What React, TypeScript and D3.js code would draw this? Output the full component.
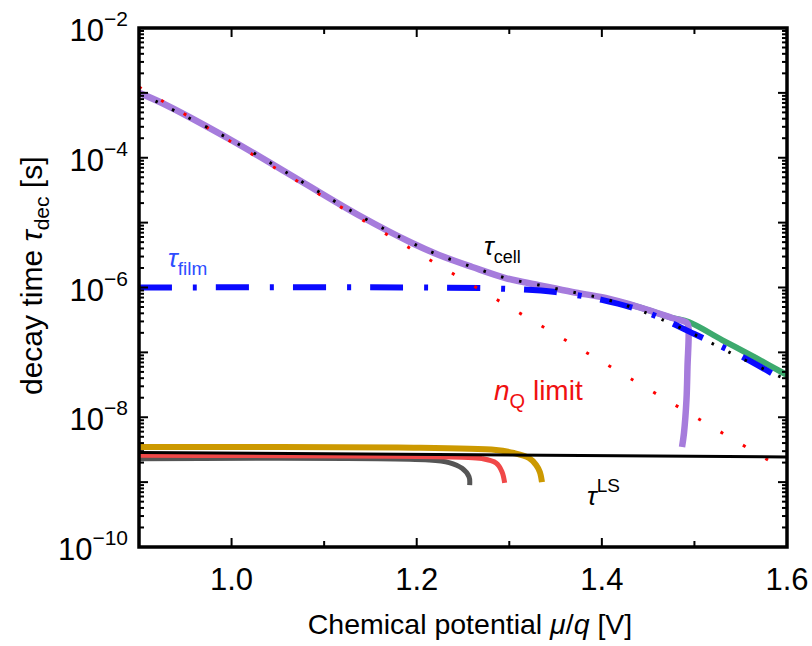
import React from "react";
import * as d3 from "d3";

// ---------- data (μ/q [V], τ [s]) ----------
const xTickValues = [1.0, 1.2, 1.4, 1.6];
const xMinorTicks = [1.1, 1.3, 1.5];
const yLabelExponents = [-2, -4, -6, -8, -10];

const tauCell: [number, number][] = [
  [0.9, 1.0e-3], [0.9248, 6.98e-4], [0.9994, 1.88e-4], [1.0728, 4.54e-5],
  [1.1409, 1.22e-5], [1.1949, 4.85e-6], [1.224, 3.17e-6], [1.26, 2.07e-6],
  [1.296, 1.4e-6], [1.332, 1.09e-6], [1.368, 8.53e-7], [1.404, 6.9e-7],
  [1.44, 5.0e-7], [1.476, 3.39e-7], [1.492, 2.84e-7],
  [1.4935, 2.46e-7], [1.4925, 5.96e-8], [1.4914, 1.85e-8], [1.4887, 5.71e-9], [1.4866, 3.48e-9],
];

const tauCellGreen: [number, number][] = [
  [1.40, 6.9e-7], [1.44, 5.0e-7], [1.476, 3.39e-7], [1.494, 2.94e-7],
  [1.53, 1.55e-7], [1.5665, 8.19e-8], [1.6, 4.48e-8],
];

const tauFilm: [number, number][] = [
  [0.9, 1.0e-6], [1.2, 1.0e-6], [1.3, 9.5e-7], [1.35, 8.5e-7], [1.4, 6.45e-7],
  [1.45, 4.05e-7], [1.5, 1.92e-7], [1.55, 8.8e-8], [1.6, 3.49e-8],
];

const nQLimit: [number, number][] = [
  [0.9, 1.23e-3], [1.0, 1.75e-4], [1.2, 3.5e-6], [1.4, 7.2e-8], [1.595, 1.62e-9],
];

const tauCellModel: [number, number][] = [
  [0.9, 1.0e-3], [0.9994, 1.88e-4], [1.0728, 4.54e-5], [1.1409, 1.22e-5],
  [1.1949, 4.85e-6], [1.224, 3.17e-6], [1.26, 2.07e-6], [1.296, 1.4e-6],
  [1.332, 1.09e-6], [1.368, 8.53e-7], [1.404, 6.6e-7], [1.44, 4.5e-7],
  [1.49, 2.21e-7], [1.55, 8.2e-8], [1.6, 3.75e-8],
];

const tauLS: [number, number][] = [[0.9, 2.86e-9], [1.6, 2.44e-9]];

const curveGold: [number, number][] = [
  [0.9, 3.48e-9], [1.18, 3.42e-9], [1.2857, 3.13e-9], [1.305, 2.81e-9],
  [1.3213, 2.35e-9], [1.329, 1.84e-9], [1.333, 1.43e-9], [1.3353, 1.0e-9],
];
const curveRed: [number, number][] = [
  [0.9, 2.59e-9], [1.249, 2.41e-9], [1.2705, 2.3e-9], [1.2857, 1.97e-9],
  [1.2921, 1.45e-9], [1.295, 9.7e-10],
];
const curveGray: [number, number][] = [
  [0.9, 2.3e-9], [1.2133, 2.19e-9], [1.2349, 2.0e-9], [1.249, 1.63e-9],
  [1.2565, 1.21e-9], [1.2572, 9.0e-10],
];

// ---------- layout ----------
const W = 812, H = 646;
const L = 139, R = 787, T = 28, B = 547;
const FONT = "'Liberation Sans', Arial, Helvetica, sans-serif";

export default function App() {
  const x = d3.scaleLinear().domain([0.9, 1.6]).range([L, R]);
  const y = d3.scaleLog().domain([1e-10, 1e-2]).range([B, T]);
  const line = d3.line<[number, number]>()
    .x((d) => x(d[0]))
    .y((d) => y(d[1]))
    .curve(d3.curveCatmullRom.alpha(0.5));

  const majorY: number[] = [];
  const minorY: number[] = [];
  for (let e = -10; e <= -2; e++) {
    majorY.push(Math.pow(10, e));
    if (e < -2) for (let k = 2; k <= 9; k++) minorY.push(k * Math.pow(10, e));
  }

  return (
    <svg width={W} height={H} style={{ position: "absolute", left: 0, top: 0, background: "#fff" }} fontFamily={FONT}>
      <rect x={0} y={0} width={W} height={H} fill="#fff" />
      <defs>
        <clipPath id="plot"><rect x={L} y={T} width={R - L} height={B - T} /></clipPath>
      </defs>
      <g clipPath="url(#plot)" fill="none" strokeLinejoin="round">
        <path d={line(tauCellGreen)!} stroke="#3daa6e" strokeWidth={6} />
        <path d={line(tauCell)!} stroke="#a67cdc" strokeWidth={6.5} />
        <path d={line(tauFilm)!} stroke="#0a0aff" strokeWidth={6} strokeDasharray="33 21 4 19" />
        <path d={line(nQLimit)!} stroke="#ff0000" strokeWidth={3} strokeDasharray="3 23" />
        <path d={line(tauCellModel)!} stroke="#000" strokeWidth={3} strokeDasharray="2.5 16" />
        <path d={line(curveGray)!} stroke="#555555" strokeWidth={5} />
        <path d={line(curveRed)!} stroke="#f04848" strokeWidth={5} />
        <path d={line(curveGold)!} stroke="#cc9900" strokeWidth={6} />
        <path d={line(tauLS)!} stroke="#000" strokeWidth={3} />
      </g>

      {/* ticks */}
      <g stroke="#000" strokeWidth={2}>
        {majorY.map((v) => (
          <g key={"my" + v}>
            <line x1={L} x2={L + 9} y1={y(v)} y2={y(v)} />
            <line x1={R} x2={R - 9} y1={y(v)} y2={y(v)} />
          </g>
        ))}
        {minorY.map((v) => (
          <g key={"ny" + v}>
            <line x1={L} x2={L + 5} y1={y(v)} y2={y(v)} />
            <line x1={R} x2={R - 5} y1={y(v)} y2={y(v)} />
          </g>
        ))}
        {xTickValues.map((v) => (
          <g key={"mx" + v}>
            <line x1={x(v)} x2={x(v)} y1={B} y2={B - 9} />
            <line x1={x(v)} x2={x(v)} y1={T} y2={T + 9} />
          </g>
        ))}
        {xMinorTicks.map((v) => (
          <g key={"nx" + v}>
            <line x1={x(v)} x2={x(v)} y1={B} y2={B - 6} />
            <line x1={x(v)} x2={x(v)} y1={T} y2={T + 6} />
          </g>
        ))}
      </g>
      <rect x={L} y={T} width={R - L} height={B - T} fill="none" stroke="#000" strokeWidth={3.5} />

      {/* y tick labels */}
      {yLabelExponents.map((e) => (
        <text key={"yl" + e} x={128} y={y(Math.pow(10, e)) + 13} textAnchor="end" fontSize={31} fill="#000">
          10<tspan fontSize={21} dy={-15}>{"\u2212" + Math.abs(e)}</tspan>
        </text>
      ))}
      {/* x tick labels */}
      {xTickValues.map((v) => (
        <text key={"xl" + v} x={x(v)} y={590} textAnchor="middle" fontSize={31} fill="#000">
          {d3.format(".1f")(v)}
        </text>
      ))}

      {/* axis titles */}
      <text x={470} y={634} textAnchor="middle" fontSize={28.5} fill="#000">
        Chemical potential <tspan fontStyle="italic">μ</tspan>/<tspan fontStyle="italic">q</tspan> [V]
      </text>
      <text transform="translate(42,395) rotate(-90)" textAnchor="start" fontSize={30} fill="#000">
        decay time <tspan fontStyle="italic">τ</tspan><tspan fontSize={21} dy={7}>dec</tspan><tspan dy={-7}> [s]</tspan>
      </text>

      {/* annotations */}
      <text x={168} y={267} fontSize={26} fill="#2e4dff">
        <tspan fontStyle="italic">τ</tspan><tspan fontSize={19} dy={8}>film</tspan>
      </text>
      <text x={484} y={255} fontSize={26} fill="#000">
        <tspan fontStyle="italic">τ</tspan><tspan fontSize={18} dy={8}>cell</tspan>
      </text>
      <text x={494} y={400} fontSize={28} fill="#f01010">
        <tspan fontStyle="italic">n</tspan><tspan fontSize={20} dy={8}>Q</tspan><tspan dy={-8}> limit</tspan>
      </text>
      <text x={587} y={505} fontSize={26} fill="#000">
        <tspan fontStyle="italic">τ</tspan><tspan fontSize={19} dy={-13}>LS</tspan>
      </text>
    </svg>
  );
}
